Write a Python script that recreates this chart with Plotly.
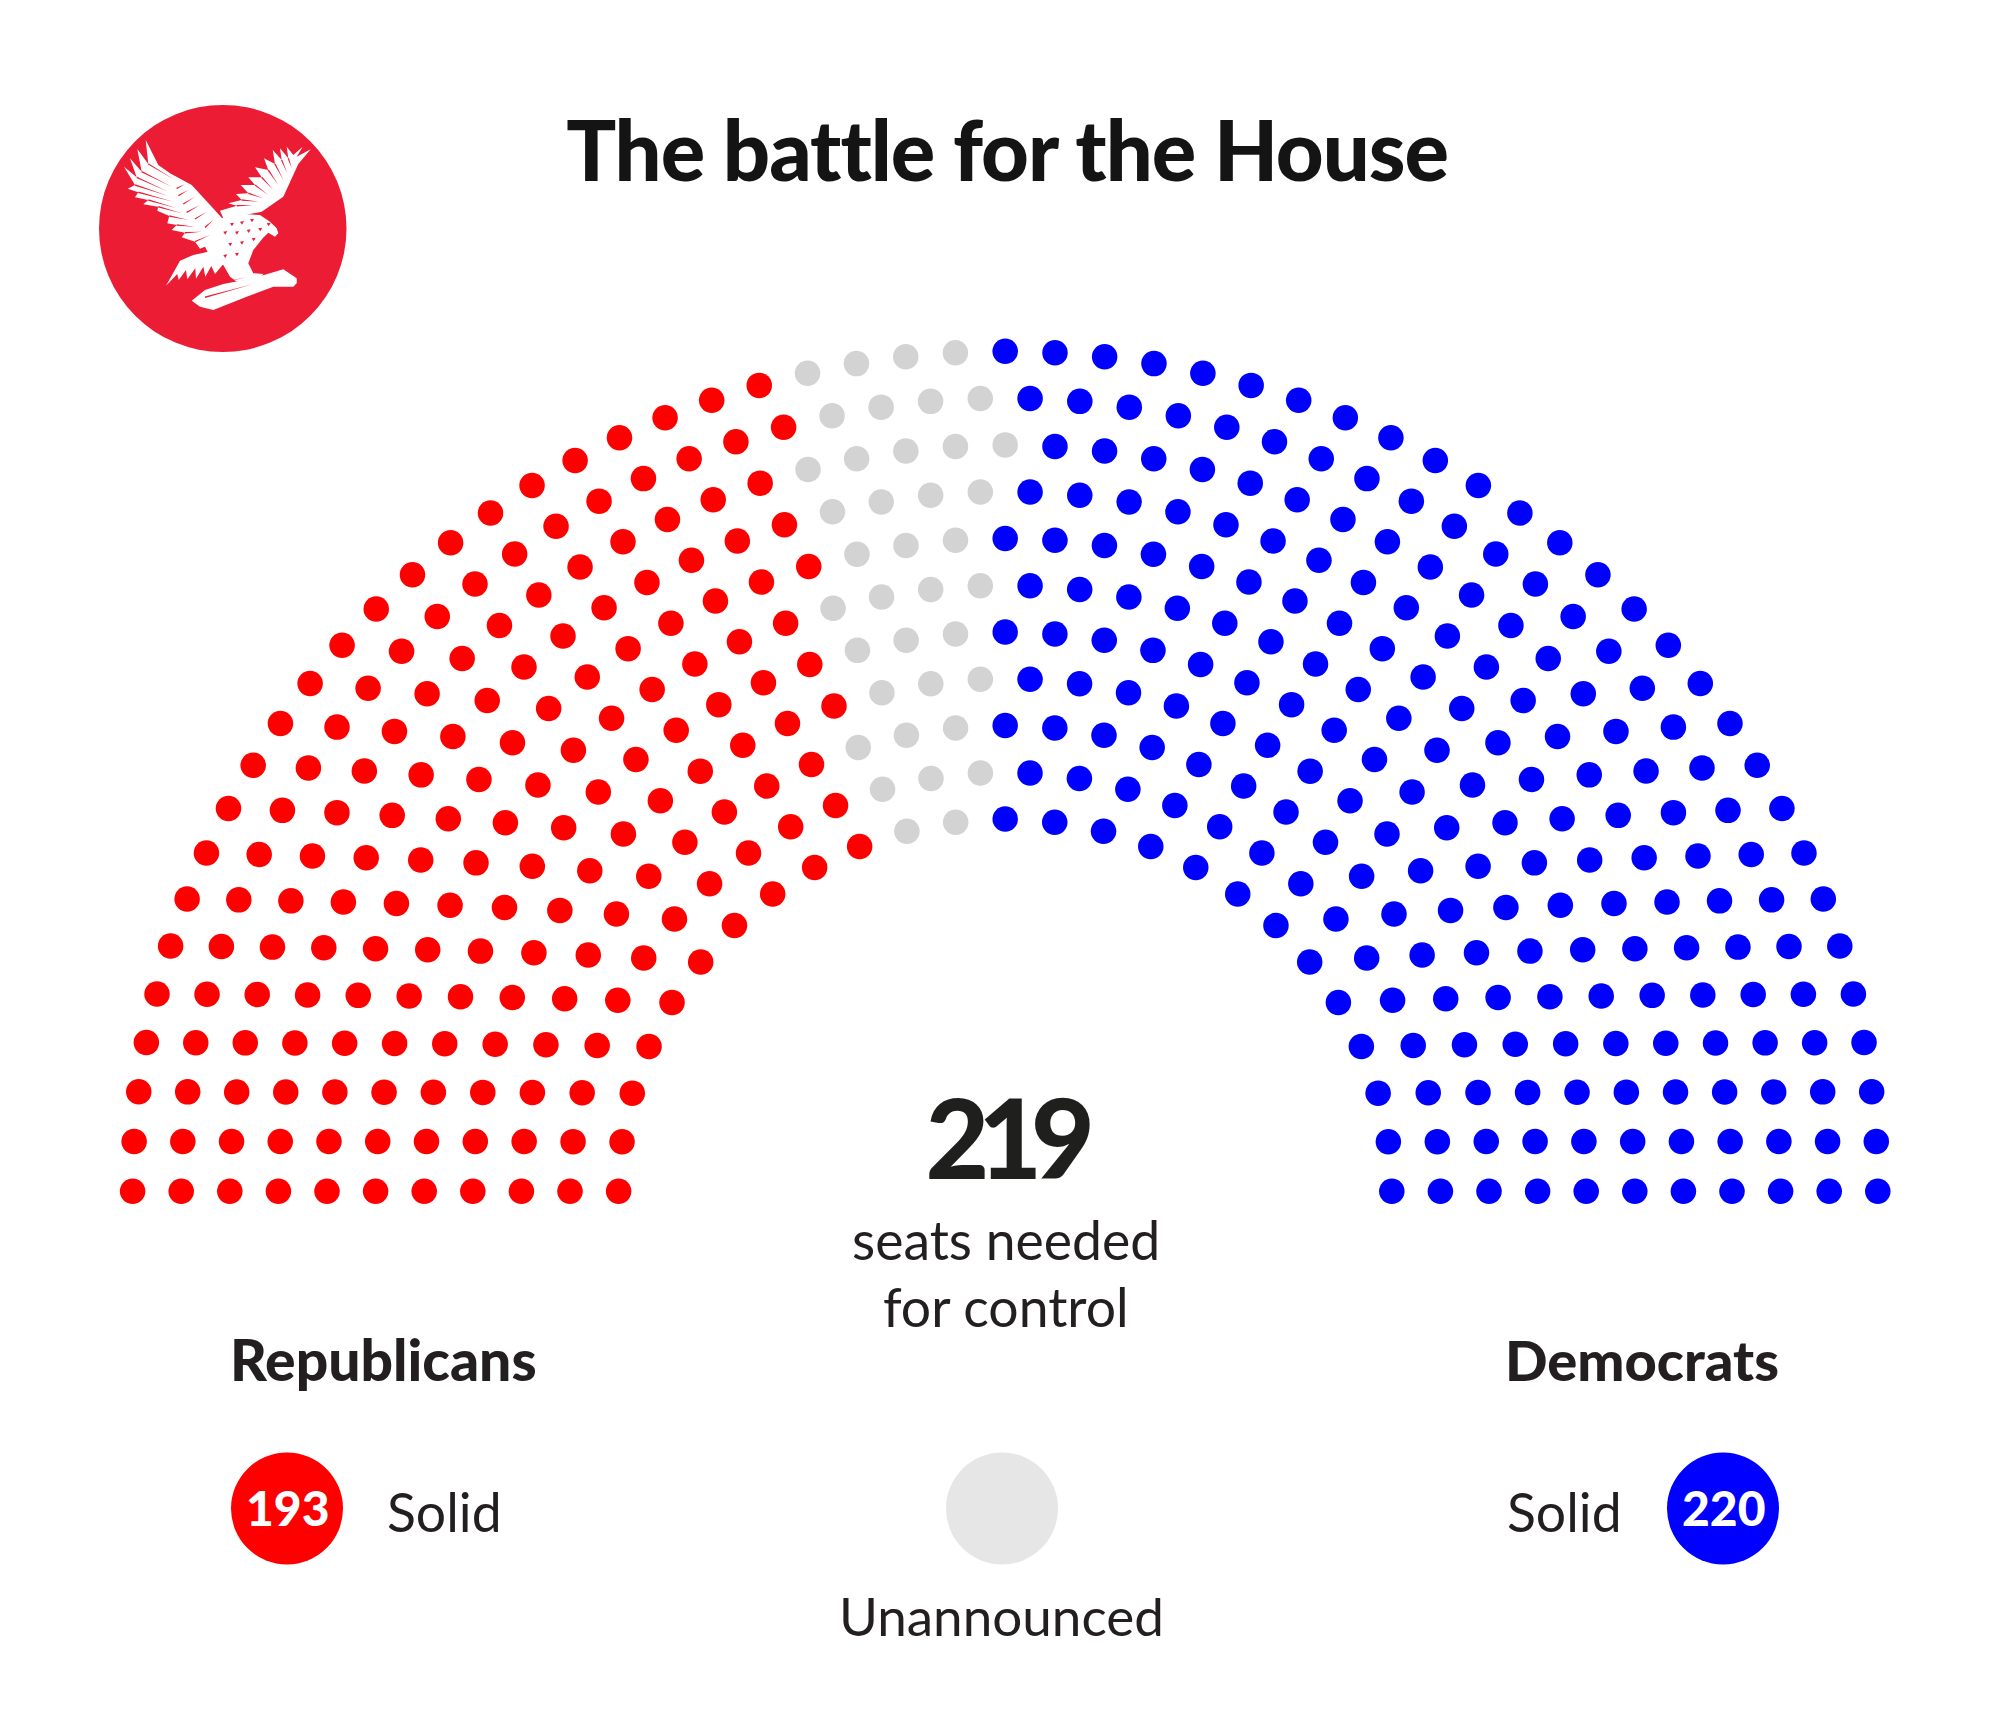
import numpy as np
import plotly.graph_objects as go

# ---- data ----
row_numbers = list(range(1, 12))            # 1 = outermost row
republican_seats = [23, 22, 20, 19, 18, 16, 15, 14, 12, 11, 10]
unannounced_seats = [4, 4, 5, 4, 3, 4, 3, 3, 3, 3, 2]
democrat_seats = [28, 26, 24, 23, 22, 20, 19, 17, 16, 14, 13]
legend_labels = ["193", "", "220"]

# ---- geometry / style ----
CX, CY = 1005.2, 1191.2
RX_OUT, RX_STEP = 872.6, 48.6
Y_SQUASH = 0.9625
DOT = 25.5
RED, GREY, BLUE = "#ff0000", "#d3d3d3", "#0000ff"
INK = "#231f20"
FONT = "Lato"

def seat_angles(n):
    """Angles that put n seats at equal distance along the flattened arc."""
    t = np.linspace(np.pi, 0, 2001)
    seg = np.hypot(np.diff(np.cos(t)), Y_SQUASH * np.diff(np.sin(t)))
    s = np.concatenate([[0], np.cumsum(seg)])
    return np.interp(np.linspace(0, s[-1], n), s, t)

xs = {"r": [], "g": [], "b": []}
ys = {"r": [], "g": [], "b": []}
for row, nr, ng, nb in zip(row_numbers, republican_seats, unannounced_seats, democrat_seats):
    n = nr + ng + nb
    radius = RX_OUT - (row - 1) * RX_STEP
    theta = seat_angles(n)
    x = CX + radius * np.cos(theta)
    y = CY - radius * Y_SQUASH * np.sin(theta)
    xs["r"] += list(x[:nr]); ys["r"] += list(y[:nr])
    xs["g"] += list(x[nr:nr + ng]); ys["g"] += list(y[nr:nr + ng])
    xs["b"] += list(x[nr + ng:]); ys["b"] += list(y[nr + ng:])

fig = go.Figure()
for key, colour, name in (("r", RED, "Republicans"), ("g", GREY, "Unannounced"), ("b", BLUE, "Democrats")):
    fig.add_trace(go.Scatter(x=xs[key], y=ys[key], mode="markers", name=name,
                             marker=dict(size=DOT, color=colour, line=dict(width=0)),
                             hoverinfo="skip"))

# legend discs
disc_x = [287, 1002, 1723]
disc_y = 1508.5
fig.add_trace(go.Scatter(x=disc_x, y=[disc_y] * 3, mode="markers",
                         marker=dict(size=112, color=[RED, "#e6e6e7", BLUE], line=dict(width=0)),
                         hoverinfo="skip"))

# ---- logo ----
LX, LY = 80.0, 90.0
LOGO_RED = "#ec1c35"
def poly(points):
    return "M " + " L ".join(f"{LX + px / 3:.1f} {LY + py / 3:.1f}" for px, py in points) + " Z"

def slit(a, b, w=2.2):
    (ax, ay), (bx, by) = a, b
    dx, dy = bx - ax, by - ay
    L = (dx * dx + dy * dy) ** 0.5
    nx, ny = -dy / L * w, dx / L * w
    return [(ax + nx, ay + ny), (bx, by), (ax - nx, ay - ny)]

left_wing = [(197, 150), (205, 222), (172, 177), (185, 245), (150, 205), (170, 262), (132, 230), (165, 285),
             (143, 296), (175, 307), (165, 322), (205, 330), (190, 343), (235, 350), (232, 362), (268, 378),
             (262, 400), (290, 405), (275, 420), (315, 428), (305, 442), (345, 455), (360, 476), (395, 462),
             (415, 445), (440, 470), (440, 400), (395, 350), (335, 285), (270, 250), (235, 225)]
right_wing = [(420, 362), (470, 347), (445, 340), (485, 330), (468, 312), (505, 310), (482, 285), (525, 285),
              (505, 262), (545, 262), (525, 232), (565, 240), (552, 205), (585, 222), (578, 180), (605, 210),
              (600, 175), (625, 205), (620, 170), (640, 195), (668, 170), (650, 200), (692, 178), (655, 222),
              (610, 320), (545, 365), (480, 378), (430, 385)]
body = [(425, 385), (490, 372), (540, 375), (570, 395), (590, 415), (595, 430), (585, 440), (565, 428),
        (548, 445), (520, 480), (505, 520), (520, 550), (550, 552), (540, 568), (500, 570), (470, 575),
        (450, 560), (430, 525), (390, 500), (375, 470)]
tail = [(420, 478), (340, 495), (300, 512), (258, 587), (292, 552), (296, 570), (318, 540), (322, 568),
        (346, 535), (348, 566), (370, 530), (376, 560), (394, 528), (405, 552), (432, 520)]
branch = [(335, 632), (375, 600), (430, 582), (520, 565), (610, 538), (650, 565), (650, 580), (640, 590),
          (580, 590), (500, 620), (400, 660), (360, 650)]
feather_slits = [
    ((205, 222), (285, 270)), ((185, 245), (275, 290)), ((170, 262), (265, 305)), ((165, 285), (265, 318)),
    ((175, 307), (280, 335)), ((205, 330), (290, 355)), ((235, 350), (305, 370)), ((268, 378), (325, 390)),
    ((290, 405), (345, 410)), ((315, 428), (365, 425)), ((345, 455), (390, 435)),
    ((290, 295), (315, 283)), ((295, 317), (325, 300)), ((310, 342), (345, 320)), ((320, 367), (360, 345)),
    ((345, 387), (380, 365)), ((375, 412), (400, 390)),
    ((470, 347), (520, 345)), ((485, 330), (535, 335)), ((505, 310), (550, 325)), ((525, 285), (565, 315)),
    ((545, 262), (580, 300)), ((565, 240), (595, 285)), ((585, 222), (610, 270)), ((605, 210), (622, 250)),
    ((625, 205), (635, 235)),
    ((360, 592), (500, 562)), ((375, 622), (520, 582)),
]
spots = [(450, 400), (480, 395), (510, 388), (430, 425), (465, 425), (500, 420), (535, 415), (445, 460),
         (480, 455), (515, 445), (430, 495), (465, 490), (560, 400)]

shapes = [dict(type="circle", xref="x", yref="y", x0=99, x1=346.5, y0=105, y1=352,
               fillcolor=LOGO_RED, line=dict(width=0), layer="below")]
for p in (left_wing, right_wing, tail, branch, body):
    shapes.append(dict(type="path", path=poly(p), xref="x", yref="y", fillcolor="white",
                       line=dict(width=0), layer="below"))
for a, b in feather_slits:
    shapes.append(dict(type="path", path=poly(slit(a, b)), xref="x", yref="y", fillcolor=LOGO_RED,
                       line=dict(width=0), layer="below"))
for sx, sy in spots:
    shapes.append(dict(type="path", path=poly([(sx, sy), (sx + 12, sy - 2), (sx + 6, sy + 9)]), xref="x", yref="y",
                       fillcolor=LOGO_RED, line=dict(width=0), layer="below"))

# ---- text ----
def label(x, y, text, size, anchor="center", weight=400, color=INK):
    return dict(x=x, y=y, xref="x", yref="y", text=text, showarrow=False, xanchor=anchor, yanchor="middle",
                font=dict(family=FONT, size=size, color=color, weight=weight))

annotations = [
    label(1007, 149, "The battle for the House", 83, weight=900, color="#141414"),
    label(1004, 1136, "219", 110, weight=900, color="#1f1f1d"),
    label(1006, 1238.5, "seats needed", 53.5),
    label(1006, 1306, "for control", 53.5),
    label(228, 1359, "Republicans", 57, "left", 900),
    label(1503, 1359, "Democrats", 56, "left", 900),
    label(385, 1511, "Solid", 53.5, "left"),
    label(1505, 1511, "Solid", 53.5, "left"),
    label(1001, 1615, "Unannounced", 53),
    label(disc_x[0] + 1, disc_y - 1.5, legend_labels[0], 48, weight=900, color="white"),
    label(disc_x[2] + 1, disc_y - 1.5, legend_labels[2], 48, weight=900, color="white"),
]

fig.update_layout(
    width=2000, height=1728, margin=dict(l=0, r=0, t=0, b=0),
    paper_bgcolor="white", plot_bgcolor="white", showlegend=False,
    xaxis=dict(range=[0, 2000], visible=False, fixedrange=True),
    yaxis=dict(range=[1728, 0], visible=False, fixedrange=True),
    shapes=shapes, annotations=annotations,
)
post = """
document.body.style.margin='0';
document.querySelectorAll('.annotation-text').forEach(function(t){
  if (t.textContent === '219') { t.style.letterSpacing = '-11px'; }
  if (t.textContent === 'The battle for the House') { t.style.letterSpacing = '-1px'; }
});
"""
fig.write_html("out.html", config=dict(displayModeBar=False), post_script=post)
